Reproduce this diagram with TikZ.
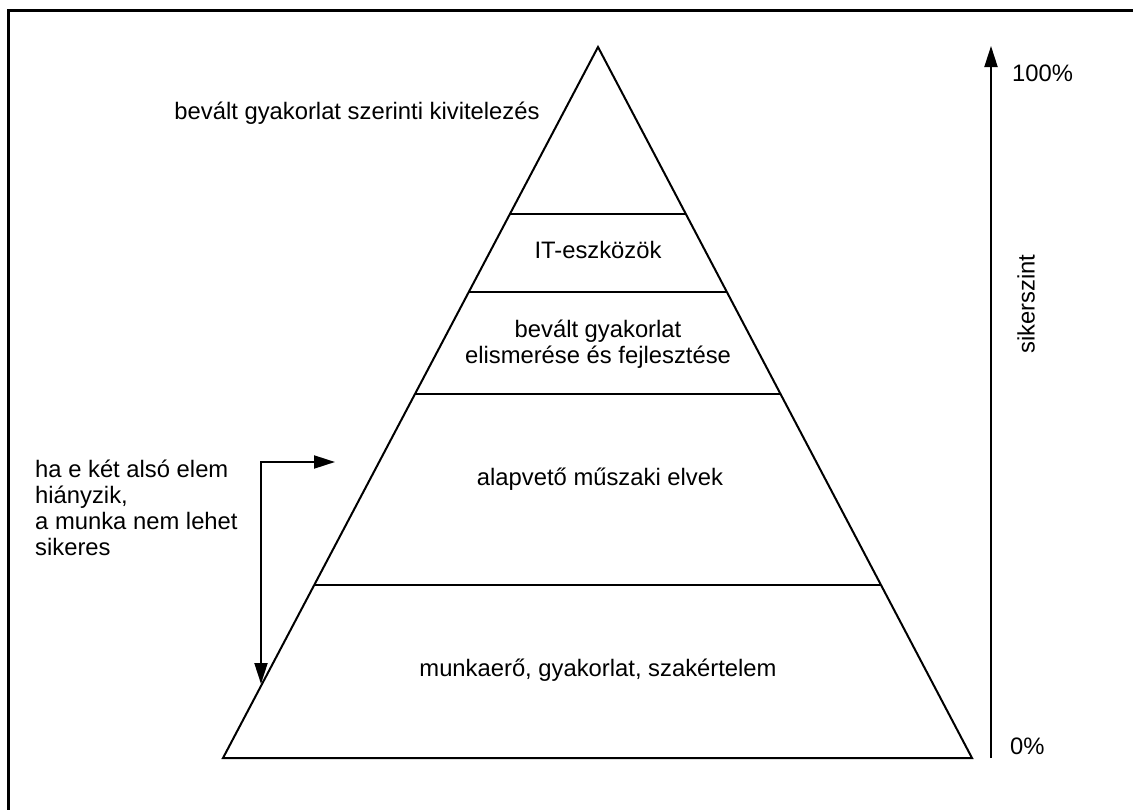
\documentclass[tikz,border=0pt]{standalone}
\usepackage{fontspec}
\setmainfont{Liberation Sans}
\usetikzlibrary{calc,arrows.meta}
\begin{document}
\begin{tikzpicture}[x=1pt,y=-1pt,
  lbl/.style={font=\fontsize{23.8}{26}\selectfont, inner sep=0pt, align=center},
  note/.style={font=\fontsize{23.8}{26}\selectfont, inner sep=0pt, align=left, anchor=west},
  edge/.style={line width=2pt, line join=miter},
  conn/.style={line width=2pt, -{Triangle[length=21pt,width=13pt]}},
  conn2/.style={line width=2pt, {Triangle[length=21pt,width=13pt]}-{Triangle[length=21pt,width=13pt]}}]
\useasboundingbox (0,0) rectangle (1133,809);
% frame (only top and left visible)
\draw[line width=3pt] (8,820) -- (8,10) -- (1140,10);
% pyramid
\coordinate (A) at (598,47);
\coordinate (BL) at (223,758);
\coordinate (BR) at (972,758);
\draw[edge] (A) -- (BL) -- (BR) -- cycle;
\foreach \t/\n in {0.2349/1,0.3446/2,0.4880/3,0.7567/4}{
  \coordinate (L\n) at ($(A)!\t!(BL)$);
  \coordinate (R\n) at ($(A)!\t!(BR)$);
  \draw[edge] (L\n) -- (R\n);
}
% labels
\node[lbl] (top) at (357,113) {bevált gyakorlat szerinti kivitelezés};
\node[lbl] (it) at (598,250) {IT-eszközök};
\node[lbl] (bev) at (598,344) {bevált gyakorlat\\elismerése és fejlesztése};
\node[lbl] (alap) at (600,479) {alapvető műszaki elvek};
\node[lbl] (munka) at (598,670) {munkaerő, gyakorlat, szakértelem};
% left note
\node[note] (note) at (35,508) {ha e két alsó elem\\hiányzik,\\a munka nem lehet\\sikeres};
\coordinate (ea) at (335,462);
\coordinate (eb) at (261,462);
\coordinate (ec) at (261,684);
\draw[conn2] (ea) -- (eb) -- (ec);
% success scale
\coordinate (s0) at (991,758);
\coordinate (s1) at (991,46);
\draw[conn] (s0) -- (s1);
\node[lbl, anchor=west] (p100) at (1012,73) {100\%};
\node[lbl, anchor=west] (p0) at (1010,746) {0\%};
\node[lbl, rotate=90] (sik) at (1026,304) {sikerszint};
\end{tikzpicture}
\end{document}
